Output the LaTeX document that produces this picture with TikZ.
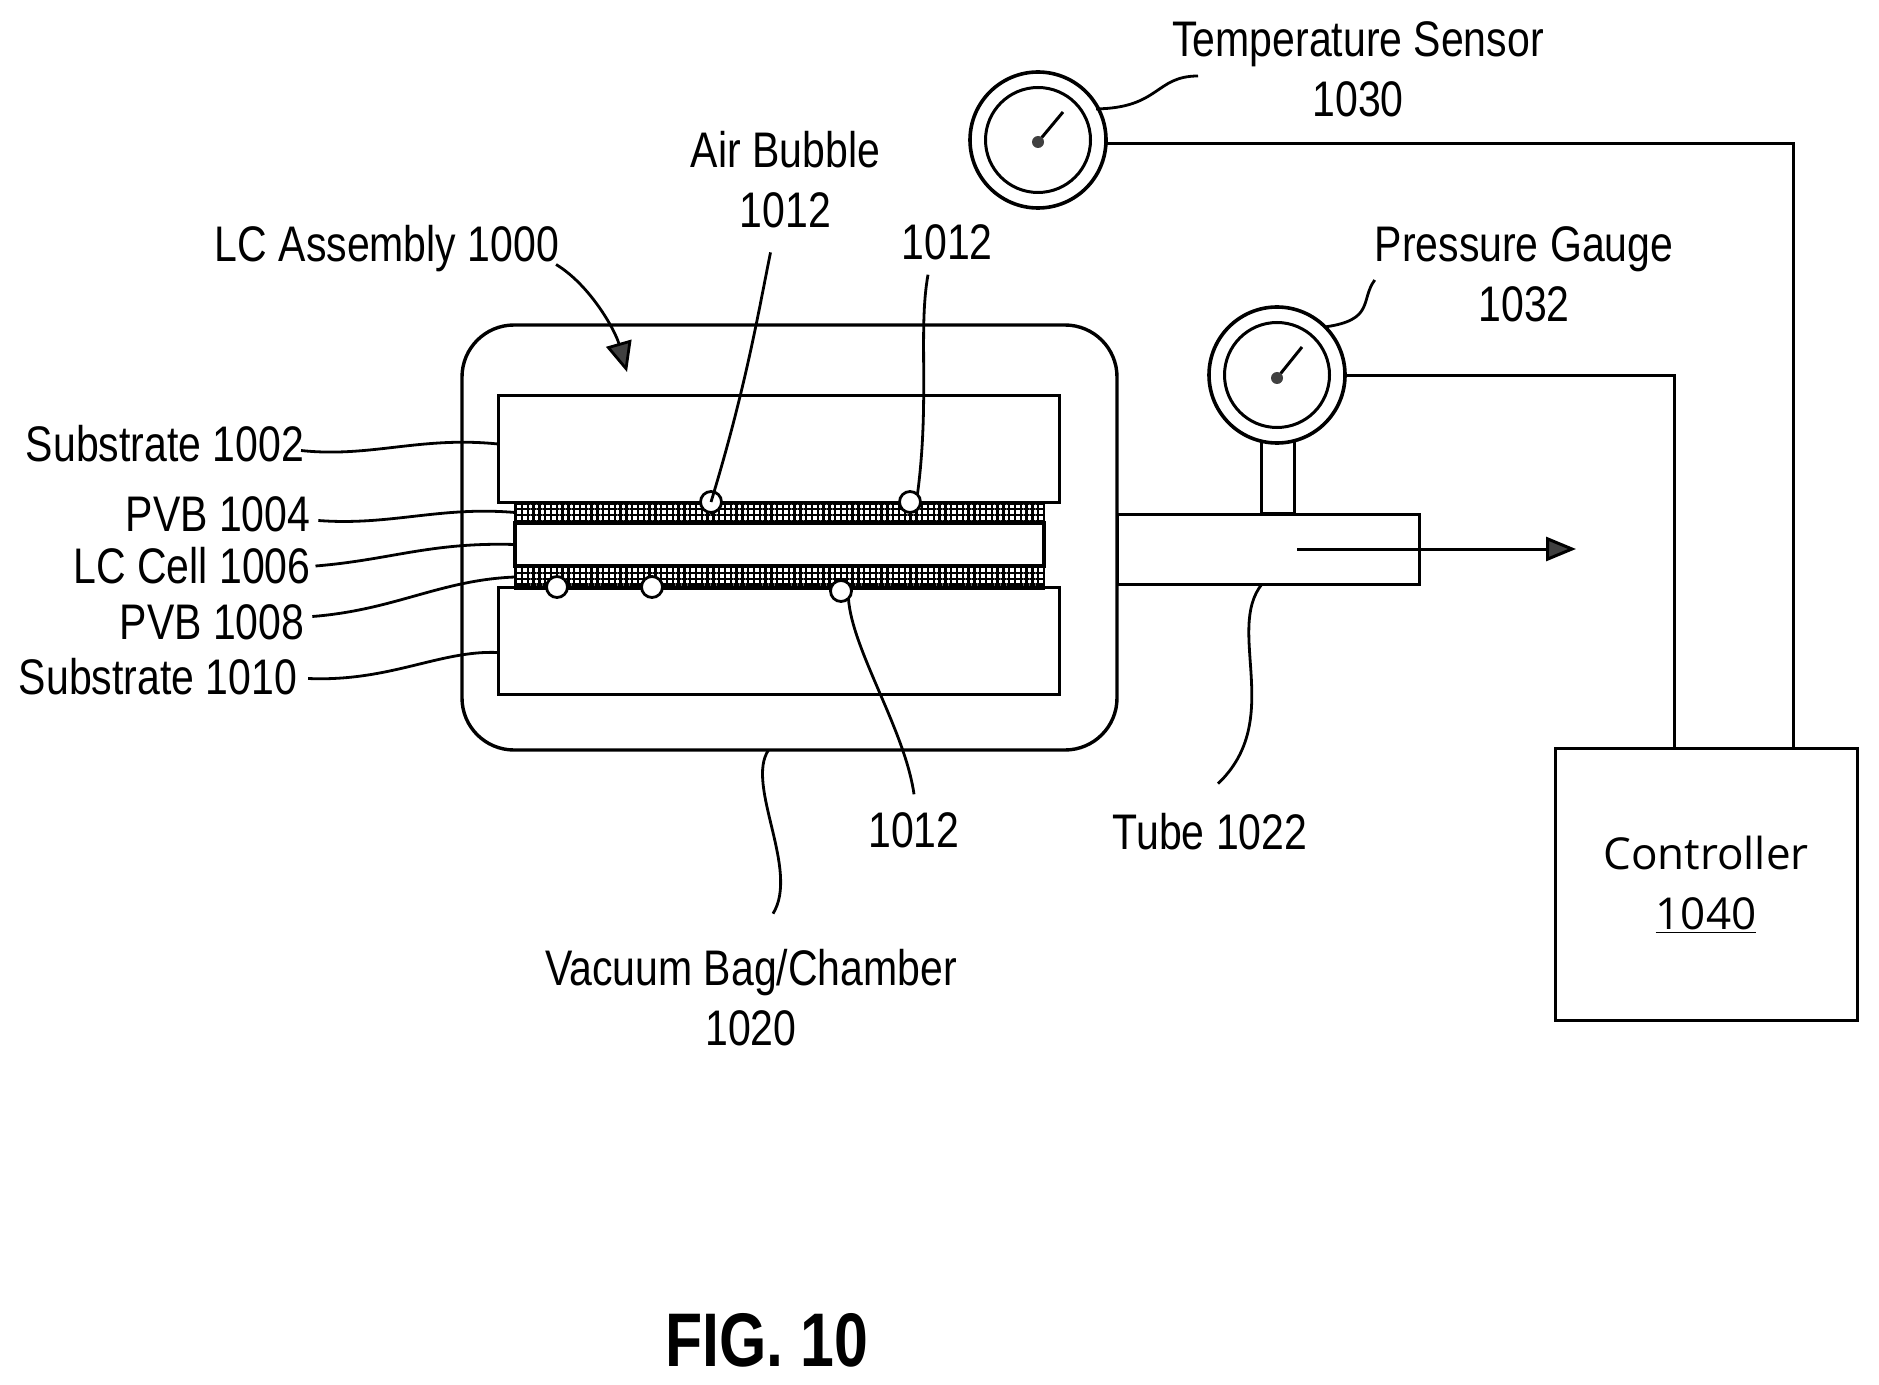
\documentclass[tikz,border=0pt]{standalone}
\usepackage{fontspec}
\setmainfont{Liberation Sans}[FakeStretch=0.82]
\newfontfamily\boxfont{Open Sans}
\newfontfamily\figfont{Liberation Sans}[FakeStretch=0.8]
\usetikzlibrary{arrows.meta,patterns.meta}

\begin{document}
\begin{tikzpicture}[x=0.5pt, y=-0.5pt]
        \tikzstyle{every node}=[inner sep=0pt, outer sep=0pt]
        \tikzstyle{lbl}=[font=\fontsize{25}{30}\selectfont, align=center]
        \tikzstyle{part}=[draw, line width=1.5pt, fill=white]
        \tikzstyle{pvb}=[draw, line width=1.2pt, minimum width=264.5pt,
            preaction={pattern={Lines[angle=0,distance=2.9pt,line width=1.25pt]}},
            pattern={Lines[angle=90,distance=2.9pt,line width=1.25pt]}]
        \tikzstyle{bubble}=[circle, draw, line width=1.4pt, fill=white, minimum size=10.5pt]
        \tikzstyle{ring}=[circle, draw, line width=1.8pt, fill=white]
        \tikzstyle{hub}=[circle, fill=black!75, minimum size=6pt]
        \tikzstyle{lead}=[line width=1.4pt]
        \tikzstyle{wire}=[line width=1.5pt]

        \useasboundingbox (0,0) rectangle (1879,1385);

% vacuum bag with the stack inside
        \node[draw, line width=1.7pt, rounded corners=26pt, minimum width=327.5pt, minimum height=212.5pt] (bag) at (789.5,537.5) {};
        \node[part, minimum width=280.5pt, minimum height=53pt] (sub1) at (778.5,449) {};
        \node[part, minimum width=280.5pt, minimum height=53.5pt] (sub2) at (778.5,640.5) {};
        \node[pvb, minimum height=10.5pt] (pvb1) at (779.5,512.5) {};
        \node[pvb, minimum height=11.5pt] (pvb2) at (779.5,577) {};
        \node[part, line width=1.7pt, minimum width=264.5pt, minimum height=21.5pt] (cell) at (779.5,544.5) {};

        \node[bubble] (bub1) at (711,502) {};
        \node[bubble] (bub2) at (910,502) {};
        \node[bubble] (bub3) at (557,587) {};
        \node[bubble] (bub4) at (652,587) {};
        \node[bubble] (bub5) at (841,591) {};

% tube and gauges
        \node[part, minimum width=151pt, minimum height=35pt] (tube) at (1268,549) {};
        \node[part, minimum width=16.5pt, minimum height=36pt] (stem) at (1277.5,477.5) {};

        \node[ring, minimum size=68pt] (tempring) at (1038,140) {};
        \node[ring, line width=1.5pt, minimum size=52.5pt] (tempdial) at (1038,140) {};
        \node[hub] (temphub) at (1038,142) {};
        \coordinate (tempneedle) at (1063,112);
        \draw[wire] (temphub) -- (tempneedle);

        \node[ring, minimum size=68pt] (pressring) at (1277,375) {};
        \node[ring, line width=1.5pt, minimum size=52.5pt] (pressdial) at (1277,375) {};
        \node[hub] (presshub) at (1277,378) {};
        \coordinate (pressneedle) at (1302,347);
        \draw[wire] (presshub) -- (pressneedle);

        \node[draw, line width=1.5pt, minimum width=151pt, minimum height=136pt] (ctrl) at (1706,884.5) {};
        \node[font=\boxfont\fontsize{22}{30}\selectfont, align=center] (ctrltxt) at (1706,885) {Controller\\\underline{1040}};

% wires to the controller
        \coordinate (tempin) at (1793,748);
        \coordinate (pressin) at (1674,748);
        \draw[wire] ([yshift=-2pt]tempring.east) -| (tempin);
        \draw[wire] ([yshift=-0.5pt]pressring.east) -| (pressin);

        \coordinate (tubestart) at (1297,549);
        \coordinate (tubeend) at (1576,549);
        \draw[wire, -{Stealth[length=15pt,width=12pt,inset=0pt,fill=black!75]}] (tubestart) -- (tubeend);

% labels
        \node[lbl] (tempname) at (1358,69) {Temperature Sensor\\1030};
        \node[lbl] (pressname) at (1524,274) {Pressure Gauge\\1032};
        \node[lbl] (airname) at (785.5,180) {Air Bubble\\1012};
        \node[lbl] (bubtop) at (947,242) {1012};
        \node[lbl] (bubbot) at (914,830) {1012};
        \node[lbl] (lcname) at (387,248.5) {LC Assembly 1000};
        \node[lbl] (subname1) at (165,443.5) {Substrate 1002};
        \node[lbl] (pvbname1) at (218,514.5) {PVB 1004};
        \node[lbl] (cellname) at (192,566) {LC Cell 1006};
        \node[lbl] (pvbname2) at (212,622.5) {PVB 1008};
        \node[lbl] (subname2) at (158,676.5) {Substrate 1010};
        \node[lbl] (tubename) at (1210,832) {Tube 1022};
        \node[lbl] (bagname) at (751,998) {Vacuum Bag/Chamber\\1020};
        \node[font=\figfont\bfseries\fontsize{38}{40}\selectfont] (figname) at (767,1340) {FIG. 10};

% leader lines
        \draw[lead, -{Stealth[length=15pt,width=13pt,inset=0pt,fill=black!75]}] (lcname.east) ++(-3,16) .. controls (590,285) and (615,330) .. (627,372);
        \draw[lead] (airname.south) ++(-15,24) .. controls (757,320) and (745,390) .. (bub1.center);
        \draw[lead] (bubtop.south) ++(-19,15) .. controls (918,330) and (930,400) .. (bub2.north east);
        \draw[lead] (bub5.south east) .. controls (852,650) and (905,730) .. ([yshift=9pt,xshift=0pt]bubbot.north);
        \draw[lead] (subname1.east) ++(-3,7) .. controls (370,458) and (420,436) .. ([yshift=2.5pt]sub1.west);
        \draw[lead] (pvbname1.east) ++(8,6) .. controls (390,526) and (440,506) .. (pvb1.west);
        \draw[lead] (cellname.east) ++(5,0) .. controls (390,560) and (430,542) .. (cell.west);
        \draw[lead] (pvbname2.east) ++(8,-6) .. controls (395,610) and (440,580) .. (pvb2.west);
        \draw[lead] (subname2.east) ++(11,2) .. controls (390,682) and (440,650) .. ([yshift=-6pt]sub2.west);
        \draw[lead] ([xshift=-10.5pt]bag.south) .. controls (745,785) and (800,870) .. ([xshift=11pt,yshift=18pt]bagname.north);
        \draw[lead] ([xshift=-3pt]tube.south) .. controls (1225,630) and (1285,720) .. ([yshift=15pt,xshift=4pt]tubename.north);
        \draw[lead] (tempring.north east) ++(10,17) .. controls (1160,108) and (1155,76) .. (1198,76);
        \draw[lead] (pressring.north east) .. controls (1375,320) and (1360,300) .. ([yshift=-3pt]pressname.west);
\end{tikzpicture}
\end{document}
